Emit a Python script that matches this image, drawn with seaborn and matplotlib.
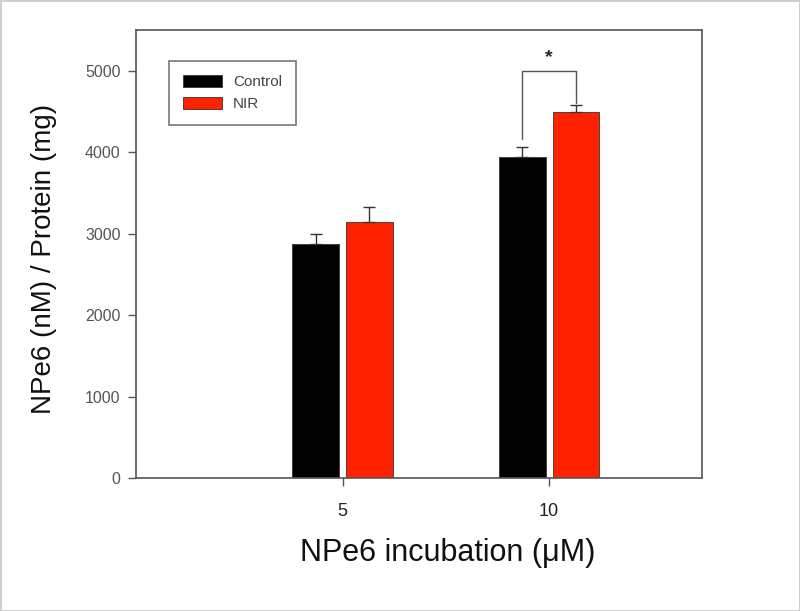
import pandas as pd
import numpy as np
import matplotlib.pyplot as plt
import seaborn as sns
from matplotlib.patches import Patch

## chart data
concentrations = ['5', '10']
groups = ['Control', 'NIR']
control_means = [2870, 3940]
control_err = [120, 125]
nir_means = [3140, 4495]
nir_err = [185, 85]
bar_colors = ['#000000', '#ff2200']

df = pd.DataFrame({
    'conc': concentrations * 2,
    'group': [groups[0]] * 2 + [groups[1]] * 2,
    'value': control_means + nir_means,
    'err': control_err + nir_err,
})

sns.set_style('ticks')
plt.rcParams['font.family'] = ['Liberation Sans', 'DejaVu Sans']

fig = plt.figure(figsize=(8, 6.11), dpi=100)
fig.patch.set_edgecolor('#d0d0d0')
fig.patch.set_linewidth(2)
ax = fig.add_axes([0.17, 0.2177, 0.7075, 0.7333])

sns.barplot(data=df, x='conc', y='value', hue='group', order=concentrations,
            hue_order=groups, palette=bar_colors, saturation=1, width=0.52,
            gap=0.13, errorbar=None, edgecolor='#333333', linewidth=0.6, ax=ax)

# upper-only error bars, taken from the drawn bars
tops = {}
for grp, cont in zip(groups, ax.containers):
    errs = df[df['group'] == grp]['err'].tolist()
    for c, p, e in zip(concentrations, cont.patches, errs):
        xc = p.get_x() + p.get_width() / 2
        h = p.get_height()
        ax.errorbar(xc, h, yerr=[[0], [e]], fmt='none', ecolor='#333333',
                    elinewidth=1, capsize=4, capthick=1)
        tops[(c, grp)] = (xc, h + e)

# significance bracket at 10 uM
x1, y1 = tops[('10', 'Control')]
x2, y2 = tops[('10', 'NIR')]
yb = 5000
ax.plot([x1, x1, x2, x2], [y1 + 100, yb, yb, y2 + 20], color='#555555', lw=1)
ax.text((x1 + x2) / 2, yb + 60, '*', ha='center', va='bottom', fontsize=14,
        fontweight='bold')

ax.set_xlim(-1.0, 1.74)
ax.set_ylim(0, 5500)
ax.set_yticks([0, 1000, 2000, 3000, 4000, 5000])
ax.set_xlabel('NPe6 incubation (\u03bcM)', fontsize=22, color='#111111')
ax.set_ylabel('NPe6 (nM) / Protein (mg)', fontsize=20, color='#111111')
ax.xaxis.set_label_coords(0.551, -0.134)
ax.yaxis.set_label_coords(-0.14, 0.49)
ax.tick_params(axis='y', labelsize=11.5, labelcolor='#555555', color='#555555',
               length=6, width=1, pad=5)
ax.tick_params(axis='x', labelsize=13, labelcolor='#222222', color='#555555',
               length=6, width=1, pad=12)
for s in ax.spines.values():
    s.set_visible(True)
    s.set_color('#555555')
    s.set_linewidth(1.2)

handles = [Patch(facecolor=c, edgecolor='#333333', linewidth=0.6) for c in bar_colors]
leg = ax.legend(handles, groups, loc='upper left', bbox_to_anchor=(0.058, 0.93),
                borderaxespad=0, fontsize=11, frameon=True, fancybox=False,
                handlelength=2.6, handleheight=0.85, borderpad=0.9,
                labelspacing=0.5, handletextpad=0.7)
leg.get_frame().set_edgecolor('#555555')
leg.get_frame().set_linewidth(1.2)
for t in leg.get_texts():
    t.set_color('#444444')

fig.savefig('out.png', dpi=100)
